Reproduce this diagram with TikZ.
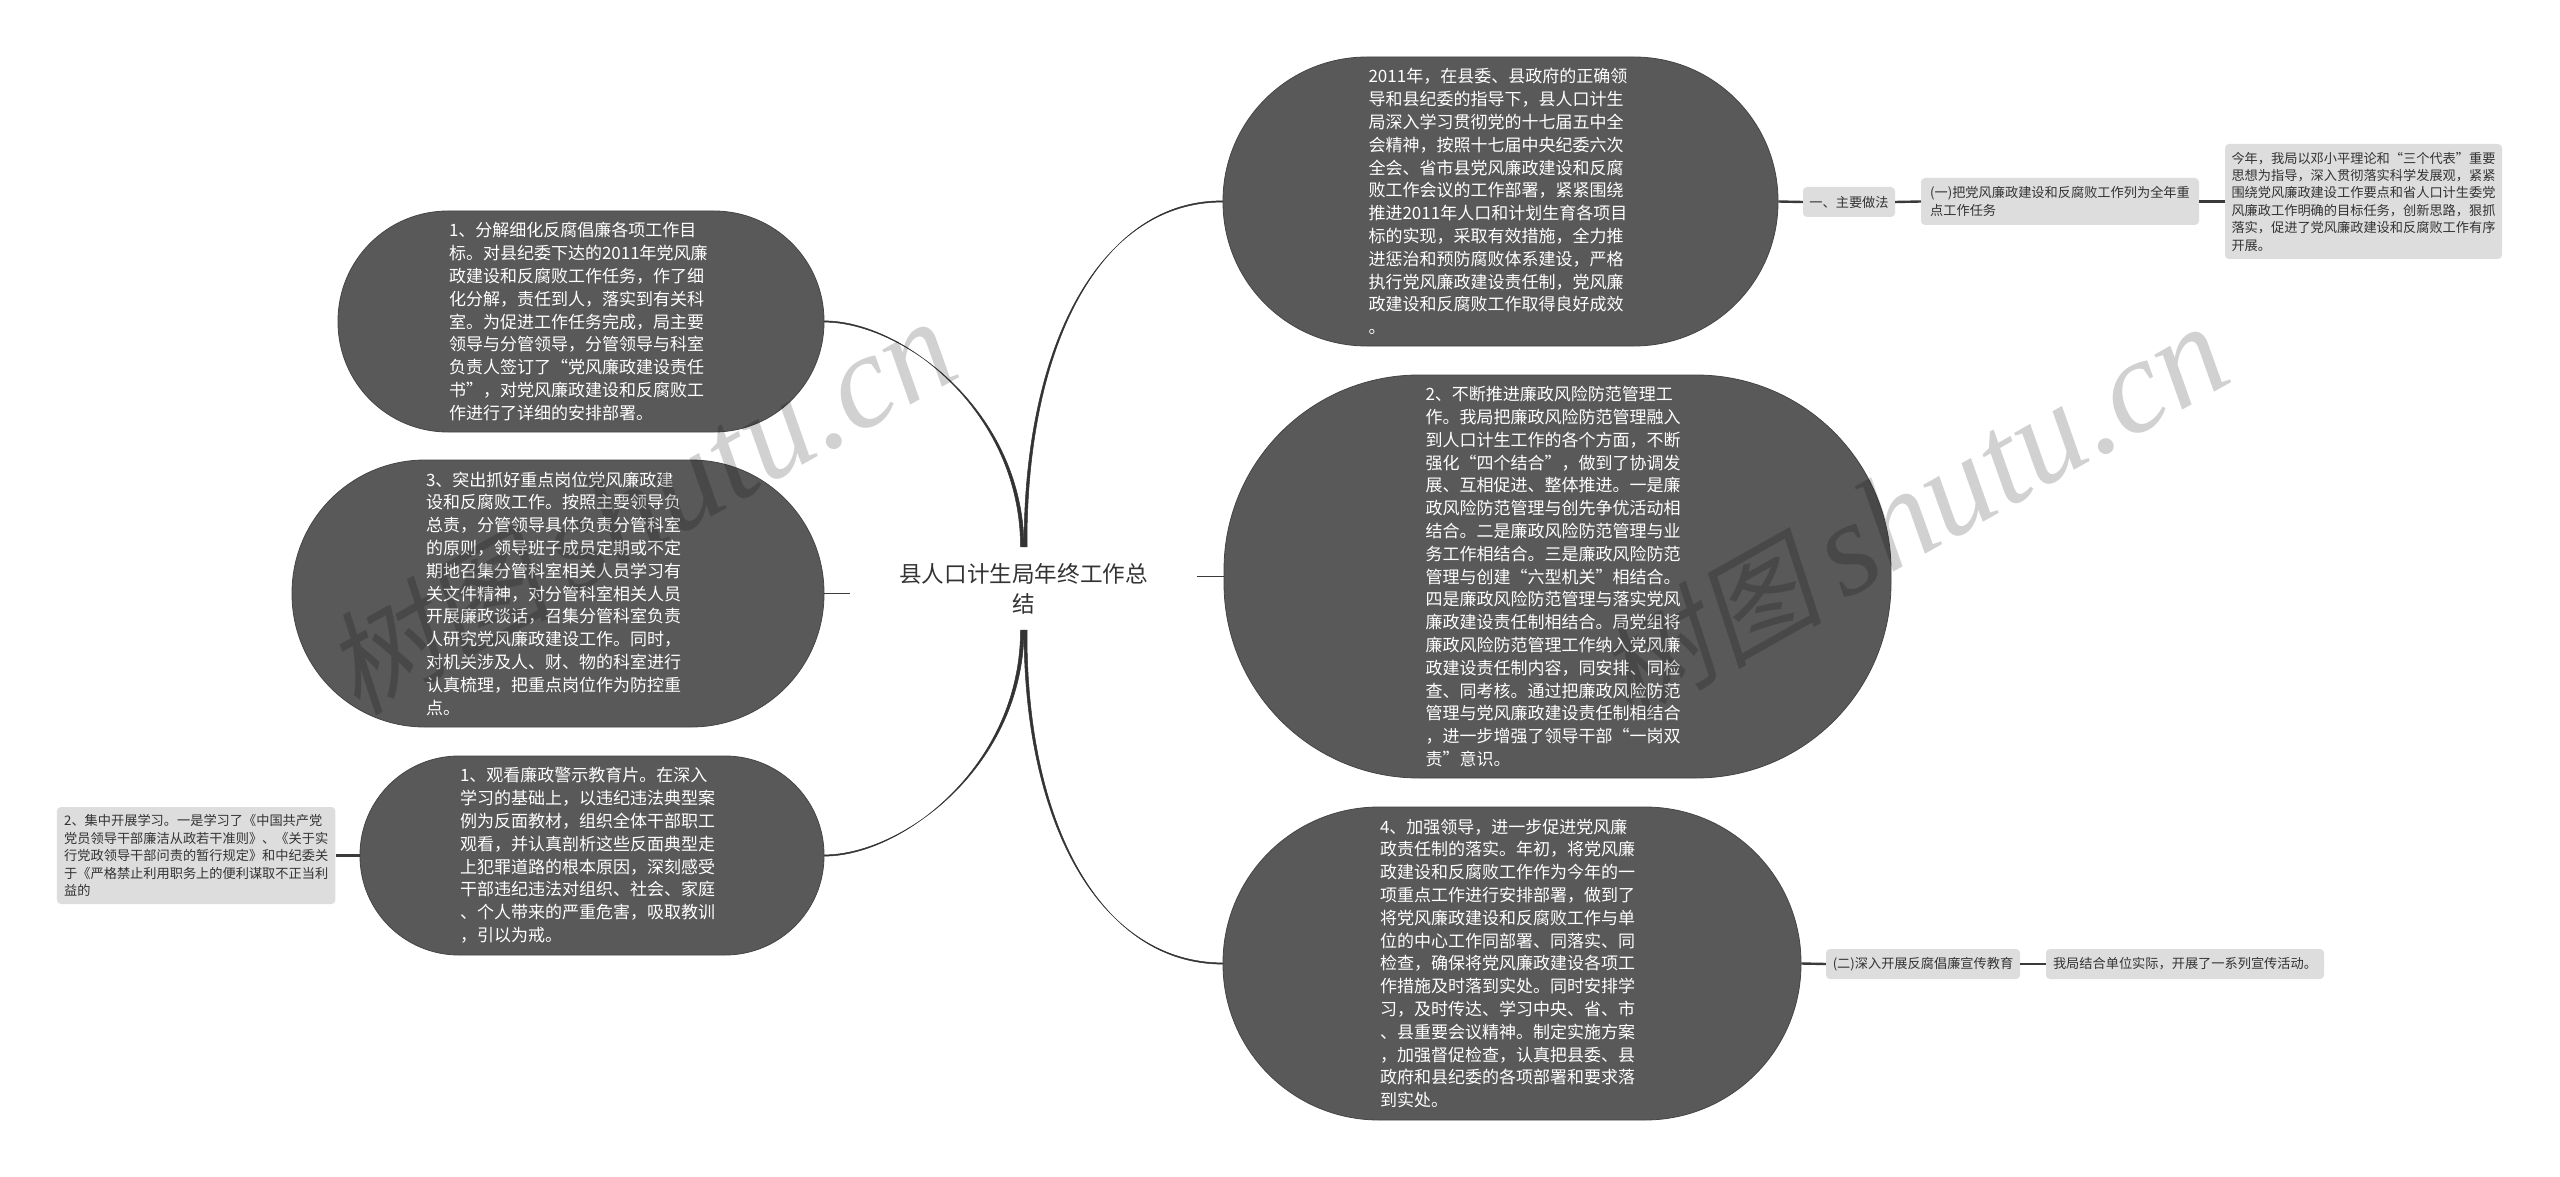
\documentclass[tikz,border=0pt]{standalone}
\usepackage{fontspec}
\setmainfont{Noto Sans CJK SC}
\newfontfamily\wmcjk[FakeSlant=0.2]{Noto Sans CJK SC}
\newfontfamily\wmlat{Liberation Serif}[ItalicFont=*-Italic]
\usetikzlibrary{calc}
\definecolor{nodedark}{HTML}{595959}
\definecolor{nodeedge}{HTML}{454545}
\definecolor{boxgray}{HTML}{DDDDDD}
\definecolor{inkdark}{HTML}{333333}
\definecolor{wire}{HTML}{3A3A3A}
\tikzset{
  bignode/.style n args={3}{shape=rectangle,draw=nodeedge,line width=0.8pt,fill=nodedark,text=white,
    minimum width=#1pt,minimum height=#2pt,rounded corners=#3pt,inner sep=0pt,text width=264pt,align=left,
    font=\fontsize{17pt}{22.8pt}\selectfont},
  smallbox/.style 2 args={shape=rectangle,fill=boxgray,text=inkdark,
    minimum width=#1pt,minimum height=#2pt,rounded corners=4pt,inner sep=0pt,align=left,
    font=\fontsize{13.2pt}{17.4pt}\selectfont},
  rootnode/.style={shape=rectangle,minimum width=347pt,minimum height=83pt,inner sep=0pt,align=center,
    text=inkdark,font=\fontsize{22.6pt}{30pt}\selectfont},
  stub/.style={draw=wire,line width=2.4pt},
  thinstub/.style={draw=wire,line width=1.4pt},
  taper/.style={fill=inkdark,draw=inkdark,line width=0.5pt},
  watermark/.style={rotate=29.4,text=black,text opacity=0.18,inner sep=0pt,font=\fontsize{134pt}{140pt}\selectfont}
}
\newcommand{\wmtext}{{\fontsize{113pt}{130pt}\selectfont\wmcjk 树图}\hspace{20pt}{\wmlat\itshape shutu.cn}}
\begin{document}
\begin{tikzpicture}[x=1pt,y=-1pt]
\useasboundingbox (0,0) rectangle (2560,1177);
\fill[white] (0,0) rectangle (2560,1177);

\node[rootnode] (root) at (1023.5,588.5) {县人口计生局年终工作总\\结};

\node[bignode={486}{221}{110}] (L1) at (581,321.5) {1、分解细化反腐倡廉各项工作目\\标。对县纪委下达的2011年党风廉\\政建设和反腐败工作任务，作了细\\化分解，责任到人，落实到有关科\\室。为促进工作任务完成，局主要\\领导与分管领导，分管领导与科室\\负责人签订了“党风廉政建设责任\\书”，对党风廉政建设和反腐败工\\作进行了详细的安排部署。};
\node[bignode={532}{267}{133}] (L2) at (558,593.5) {3、突出抓好重点岗位党风廉政建\\设和反腐败工作。按照主要领导负\\总责，分管领导具体负责分管科室\\的原则，领导班子成员定期或不定\\期地召集分管科室相关人员学习有\\关文件精神，对分管科室相关人员\\开展廉政谈话，召集分管科室负责\\人研究党风廉政建设工作。同时，\\对机关涉及人、财、物的科室进行\\认真梳理，把重点岗位作为防控重\\点。};
\node[bignode={464}{199}{99}] (L3) at (592,855.5) {1、观看廉政警示教育片。在深入\\学习的基础上，以违纪违法典型案\\例为反面教材，组织全体干部职工\\观看，并认真剖析这些反面典型走\\上犯罪道路的根本原因，深刻感受\\干部违纪违法对组织、社会、家庭\\、个人带来的严重危害，吸取教训\\，引以为戒。};
\node[smallbox={278.5}{97}] (L4) at (196.2,855.5) {2、集中开展学习。一是学习了《中国共产党\\党员领导干部廉洁从政若干准则》、《关于实\\行党政领导干部问责的暂行规定》和中纪委关\\于《严格禁止利用职务上的便利谋取不正当利\\益的};

\node[bignode={555}{289}{144}] (R1) at (1500.5,201.5) {2011年，在县委、县政府的正确领\\导和县纪委的指导下，县人口计生\\局深入学习贯彻党的十七届五中全\\会精神，按照十七届中央纪委六次\\全会、省市县党风廉政建设和反腐\\败工作会议的工作部署，紧紧围绕\\推进2011年人口和计划生育各项目\\标的实现，采取有效措施，全力推\\进惩治和预防腐败体系建设，严格\\执行党风廉政建设责任制，党风廉\\政建设和反腐败工作取得良好成效\\。};
\node[bignode={667}{403}{195}] (R2) at (1557.5,576.5) {2、不断推进廉政风险防范管理工\\作。我局把廉政风险防范管理融入\\到人口计生工作的各个方面，不断\\强化“四个结合”，做到了协调发\\展、互相促进、整体推进。一是廉\\政风险防范管理与创先争优活动相\\结合。二是廉政风险防范管理与业\\务工作相结合。三是廉政风险防范\\管理与创建“六型机关”相结合。\\四是廉政风险防范管理与落实党风\\廉政建设责任制相结合。局党组将\\廉政风险防范管理工作纳入党风廉\\政建设责任制内容，同安排、同检\\查、同考核。通过把廉政风险防范\\管理与党风廉政建设责任制相结合\\，进一步增强了领导干部“一岗双\\责”意识。};
\node[bignode={578}{313}{156}] (R3) at (1512,963.5) {4、加强领导，进一步促进党风廉\\政责任制的落实。年初，将党风廉\\政建设和反腐败工作作为今年的一\\项重点工作进行安排部署，做到了\\将党风廉政建设和反腐败工作与单\\位的中心工作同部署、同落实、同\\检查，确保将党风廉政建设各项工\\作措施及时落到实处。同时安排学\\习，及时传达、学习中央、省、市\\、县重要会议精神。制定实施方案\\，加强督促检查，认真把县委、县\\政府和县纪委的各项部署和要求落\\到实处。};

\node[smallbox={92}{30}] (Ra) at (1849,202) {一、主要做法};
\node[smallbox={278}{47}] (Rb) at (2060,201.5) {(一)把党风廉政建设和反腐败工作列为全年重\\点工作任务};
\node[smallbox={277}{115}] (Rc) at (2363.5,201.5) {今年，我局以邓小平理论和“三个代表”重要\\思想为指导，深入贯彻落实科学发展观，紧紧\\围绕党风廉政建设工作要点和省人口计生委党\\风廉政工作明确的目标任务，创新思路，狠抓\\落实，促进了党风廉政建设和反腐败工作有序\\开展。};
\node[smallbox={194}{30}] (Rd) at (1923,964) {(二)深入开展反腐倡廉宣传教育};
\node[smallbox={278}{30}] (Re) at (2185,964) {我局结合单位实际，开展了一系列宣传活动。};

% tapered main connectors
\fill[taper] ($(root.north)+(-3,0)$) .. controls (1020.5,412) and (903,321) .. ($(L1.east)+(0,-0.6)$) -- ($(L1.east)+(0,0.6)$) .. controls (904,322.5) and (1023,412) .. ($(root.north)+(0.5,0)$) -- cycle;
\fill[taper] ($(root.north)+(3.5,0)$) .. controls (1026,339) and (1104,200) .. ($(R1.west)+(0,-0.6)$) -- ($(R1.west)+(0,0.6)$) .. controls (1103,201.5) and (1024,339) .. ($(root.north)+(0.5,0)$) -- cycle;
\fill[taper] ($(root.south)+(-3,0)$) .. controls (1020.5,765) and (903,856) .. ($(L3.east)+(0,0.6)$) -- ($(L3.east)+(0,-0.6)$) .. controls (904,854.5) and (1023,765) .. ($(root.south)+(0.5,0)$) -- cycle;
\fill[taper] ($(root.south)+(3.5,0)$) .. controls (1026,830) and (1104,964) .. ($(R3.west)+(0,0.6)$) -- ($(R3.west)+(0,-0.6)$) .. controls (1103,962.5) and (1024,830) .. ($(root.south)+(0.5,0)$) -- cycle;

% straight connectors
\draw[thinstub] (root.east |- R2.west) -- (R2.west);
\draw[thinstub] (root.west |- L2.east) -- (L2.east);
\draw[stub] (L3.west) -- (L4.east);
\draw[stub] (R1.east) -- (Ra.west);
\draw[stub] (Ra.east) -- (Rb.west);
\draw[stub] (Rb.east) -- (Rc.west);
\draw[stub] (R3.east) -- (Rd.west);
\draw[stub] (Rd.east) -- (Re.west);

% watermark
\node[watermark] (wm1) at (640,508) {\wmtext};
\node[watermark] (wm2) at (1912,513) {\wmtext};
\end{tikzpicture}
\end{document}
